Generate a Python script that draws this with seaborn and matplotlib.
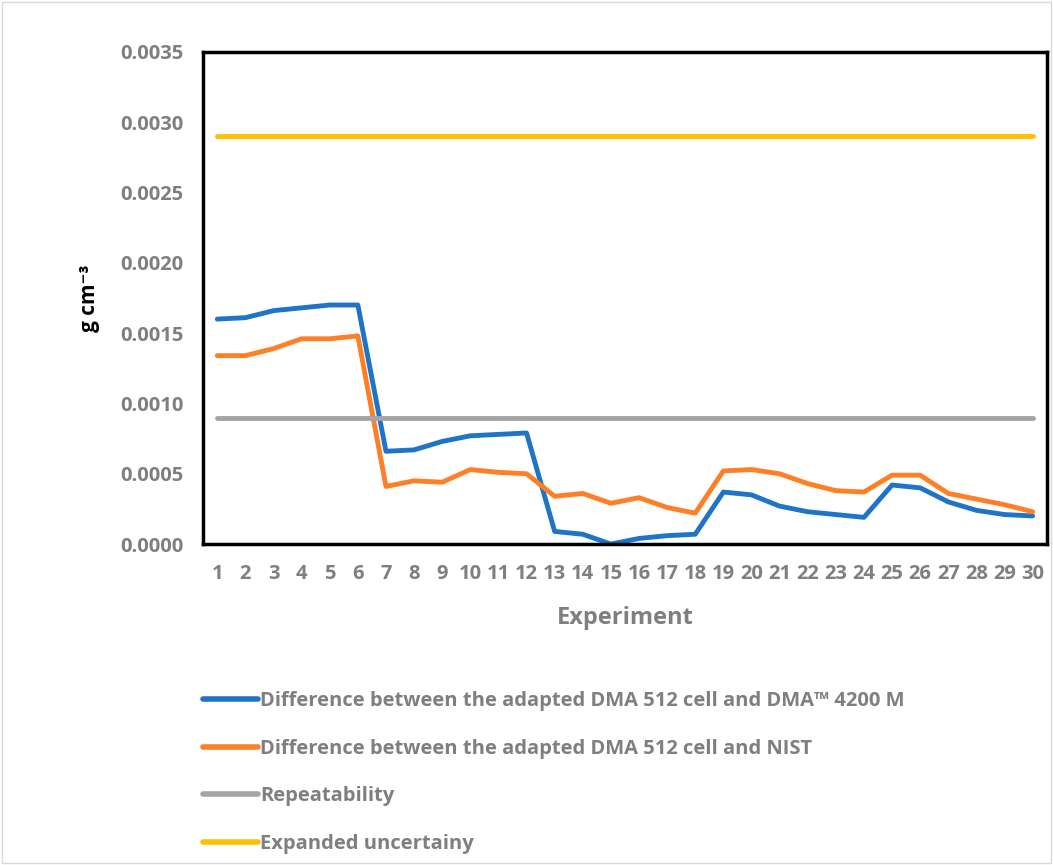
import pandas as pd
import numpy as np
import matplotlib
matplotlib.use("Agg")
import matplotlib.pyplot as plt
import seaborn as sns

# data
experiment = list(range(1, 31))
diff_dma4200 = [0.00160, 0.00161, 0.00166, 0.00168, 0.00170, 0.00170,
                0.00066, 0.00067, 0.00073, 0.00077, 0.00078, 0.00079,
                0.00009, 0.00007, 0.00000, 0.00004, 0.00006, 0.00007,
                0.00037, 0.00035, 0.00027, 0.00023, 0.00021, 0.00019,
                0.00042, 0.00040, 0.00030, 0.00024, 0.00021, 0.00020]
diff_nist = [0.00134, 0.00134, 0.00139, 0.00146, 0.00146, 0.00148,
             0.00041, 0.00045, 0.00044, 0.00053, 0.00051, 0.00050,
             0.00034, 0.00036, 0.00029, 0.00033, 0.00026, 0.00022,
             0.00052, 0.00053, 0.00050, 0.00043, 0.00038, 0.00037,
             0.00049, 0.00049, 0.00036, 0.00032, 0.00028, 0.00023]
repeatability = [0.0009] * 30
expanded_unc = [0.0029] * 30

labels = ["Difference between the adapted DMA 512 cell and DMA\u2122 4200 M",
          "Difference between the adapted DMA 512 cell and NIST",
          "Repeatability",
          "Expanded uncertainy"]
colors = ["#1F74C8", "#FF7F27", "#A5A5A5", "#FFC000"]

df = pd.DataFrame({
    "Experiment": experiment * 4,
    "value": diff_dma4200 + diff_nist + repeatability + expanded_unc,
    "series": [labels[0]] * 30 + [labels[1]] * 30 + [labels[2]] * 30 + [labels[3]] * 30,
})

sns.set_style("white")
plt.rcParams['font.family'] = ['Open Sans', 'DejaVu Sans']

fig = plt.figure(figsize=(10.53, 8.65), dpi=100)
ax = fig.add_axes([0.193, 0.371, 0.801, 0.569])

sns.lineplot(data=df, x="Experiment", y="value", hue="series",
             palette=dict(zip(labels, colors)), linewidth=3.5,
             solid_capstyle="round", ax=ax, legend=False)

ax.set_xlim(0.5, 30.5)
ax.set_ylim(0, 0.0035)
ax.set_xticks(experiment)
ax.set_yticks(np.arange(0, 0.00351, 0.0005))
ax.set_yticklabels([f"{v:.4f}" for v in np.arange(0, 0.00351, 0.0005)])
grey = "#7F7F7F"
ax.tick_params(axis="both", length=0, labelsize=14.5, colors=grey)
ax.tick_params(axis="y", pad=14)
ax.tick_params(axis="x", pad=14)
for lab in ax.get_xticklabels() + ax.get_yticklabels():
    lab.set_fontweight("bold")
ax.set_xlabel("Experiment", fontsize=17, fontweight="bold", color=grey, labelpad=16)
ax.set_ylabel("g cm\u207b\u00b3", fontsize=15, fontweight="bold", color="black", labelpad=15)
for sp in ax.spines.values():
    sp.set_visible(True)
    sp.set_color("black")
    sp.set_linewidth(2.5)

handles = [plt.Line2D([], [], color=c, linewidth=4, solid_capstyle="round") for c in colors]
leg = fig.legend(handles, labels, loc="upper left", bbox_to_anchor=(0.176, 0.222),
                 frameon=False, handlelength=2.7, handletextpad=0.1,
                 labelspacing=1.37, prop={"weight": "bold", "size": 14.5})
for t in leg.get_texts():
    t.set_color(grey)

fig.patches.append(plt.Rectangle((0.002, 0.002), 0.996, 0.996, transform=fig.transFigure,
                                 fill=False, edgecolor="#D9D9D9", linewidth=1))

fig.savefig("out.png", dpi=100)
